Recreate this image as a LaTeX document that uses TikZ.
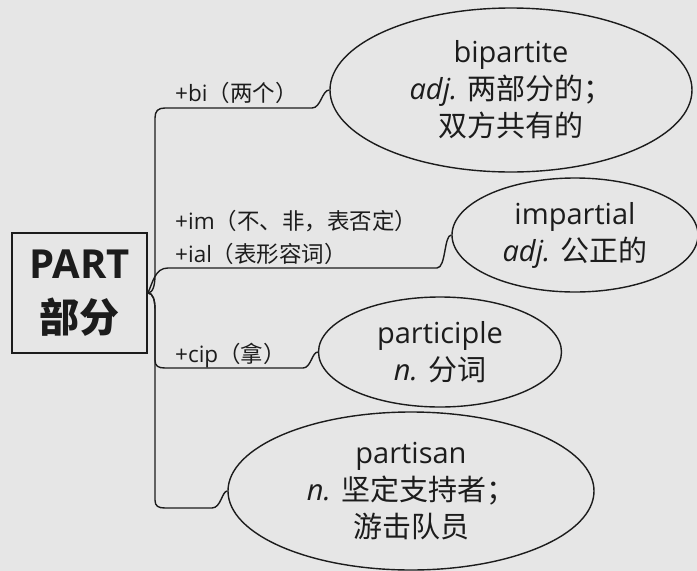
\documentclass[tikz,border=0pt]{standalone}
\usepackage{fontspec}
\setmainfont{Open Sans}
\newfontfamily\cjk{Noto Sans CJK SC}
\newfontfamily\cjkbold{Noto Sans CJK SC Bold}
\usetikzlibrary{shapes.geometric}
\definecolor{bg}{HTML}{E6E6E6}
\definecolor{ink}{HTML}{1C1C1C}
\begin{document}
\begin{tikzpicture}[x=1pt,y=-1pt,
  branch/.style={draw=ink, line width=1.4pt},
  bubble/.style={ellipse, draw=ink, line width=1.4pt, inner sep=0pt},
  word/.style={font=\fontsize{29}{37}\selectfont, text=ink, align=center, inner sep=0pt},
  tag/.style={font=\fontsize{22.5}{26}\selectfont, text=ink, inner sep=0pt, anchor=base west},
]
\fill[bg] (0,0) rectangle (697,571);
\useasboundingbox (0,0) rectangle (697,571);

\node[draw=ink, line width=1.8pt, minimum width=135pt, minimum height=120pt, inner sep=0pt,
  align=center, text=ink, font=\fontsize{40}{54}\selectfont\bfseries] (root) at (79.5,293)
  {PART\\{\cjkbold 部分}};

\node[bubble, minimum width=362pt, minimum height=164pt,
  label={[word]center:{bipartite\\{\itshape adj.} {\cjk 两部分的；}\\{\cjk 双方共有的}}}] (bi) at (511,90) {};
\node[bubble, minimum width=246pt, minimum height=114pt,
  label={[word]center:{impartial\\{\itshape adj.} {\cjk 公正的}}}] (im) at (575,235) {};
\node[bubble, minimum width=243pt, minimum height=110pt,
  label={[word]center:{participle\\{\itshape n.} {\cjk 分词}}}] (cp) at (440,352) {};
\node[bubble, minimum width=366pt, minimum height=158pt,
  label={[word]center:{partisan\\{\itshape n.} {\cjk 坚定支持者；}\\{\cjk 游击队员}}}] (ps) at (411,491) {};

\draw[branch] (root.east) .. controls (153,293) and (155,285) .. (155,275) -- (155,118)
  .. controls (155,111) and (158,108) .. (165,108) -- (312,108)
  .. controls (321,108) and (322,90) .. (bi.west);
\draw[branch] (root.east) .. controls (153,282) and (155,268) .. (168,268) -- (437,268)
  .. controls (446,268) and (444,235) .. (im.west);
\draw[branch] (root.east) .. controls (153,293) and (155,300) .. (155,310) -- (155,360)
  .. controls (155,366) and (158,368) .. (165,368) -- (303,368)
  .. controls (311,368) and (312,352) .. (cp.west);
\draw[branch] (root.east) .. controls (153,293) and (155,300) .. (155,310) -- (155,500)
  .. controls (155,506) and (158,508) .. (165,508) -- (212,508)
  .. controls (221,508) and (222,491) .. (ps.west);

\node[tag] (t1) at (175,101) {+bi{\cjk （两个）}};
\node[tag] (t2) at (175,229) {+im{\cjk （不、非，表否定）}};
\node[tag] (t3) at (175,262) {+ial{\cjk （表形容词）}};
\node[tag] (t4) at (175,362) {+cip{\cjk （拿）}};
\end{tikzpicture}
\end{document}
